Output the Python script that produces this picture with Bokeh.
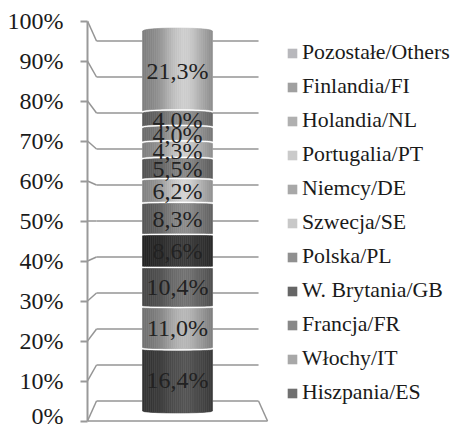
import numpy as np
from bokeh.plotting import figure
from bokeh.models import Range1d, Legend, LegendItem, FixedTicker
from bokeh.embed import file_html
from bokeh.resources import INLINE
from bokeh.core.properties import value

# ---------------- data ----------------
countries = ["Hiszpania/ES", "Włochy/IT", "Francja/FR", "W. Brytania/GB", "Polska/PL",
             "Szwecja/SE", "Niemcy/DE", "Portugalia/PT", "Holandia/NL", "Finlandia/FI",
             "Pozostałe/Others"]
shares = [16.4, 11.0, 10.4, 8.6, 8.3, 6.2, 5.5, 4.3, 4.0, 4.0, 21.3]
y_ticks = [0, 10, 20, 30, 40, 50, 60, 70, 80, 90, 100]
y_tick_labels = ["0%", "10%", "20%", "30%", "40%", "50%", "60%", "70%", "80%", "90%", "100%"]

# ---------------- styles ----------------
legend_colors = ["#707070", "#a8a8a8", "#888888", "#666666", "#909090", "#c8c8c8",
                 "#a8a8a8", "#cacaca", "#b0b0b0", "#a0a0a0", "#b8b8bc"]
body_grays = [0x48, 0x9c, 0x62, 0x34, 0x78, 0xb4, 0x74, 0xb0, 0x94, 0x7c, 0xb0]
FONT = "Liberation Serif"
GRID = "#959595"

KC = 0.95    # depth scale of the cylinder
KB = 0.90    # depth scale of the back wall
HW = 1.286   # half width of the floor (front) in bar-width units
R = 0.5      # cylinder radius in bar-width units

p = figure(width=453, height=428, output_backend="svg", toolbar_location=None,
           x_axis_location=None, min_border_left=87, min_border_right=0,
           min_border_top=0, min_border_bottom=0,
           x_range=Range1d(-HW, -HW + 366 / 70), y_range=Range1d(-1.875, 105.125))
p.outline_line_color = None
p.grid.visible = False
p.background_fill_color = "white"

yax = p.yaxis[0]
yax.ticker = FixedTicker(ticks=y_ticks)
yax.major_label_overrides = {t: l for t, l in zip(y_ticks, y_tick_labels)}
yax.bounds = (y_ticks[0], y_ticks[-1])
yax.axis_line_color = "#999999"
yax.axis_line_width = 2
yax.major_tick_line_color = "#999999"
yax.major_tick_line_width = 2
yax.major_tick_out = 7
yax.major_tick_in = 0
yax.minor_tick_line_color = None
yax.major_label_standoff = 17
yax.major_label_text_font = FONT
yax.major_label_text_font_size = "24px"
yax.major_label_text_color = "#1a1a1a"

# ---------------- walls / floor ----------------
def back(v):
    return 50 + (v - 50) * KB

side_xs = [[-HW, -HW * KB] for _ in y_ticks]
side_ys = [[v, back(v)] for v in y_ticks]
wall_xs = [[-HW * KB, HW * KB] for _ in y_ticks]
wall_ys = [[back(v), back(v)] for v in y_ticks]
floor_xs = [[-HW, HW], [HW, HW * KB]]
floor_ys = [[y_ticks[0], y_ticks[0]], [y_ticks[0], back(y_ticks[0])]]
p.multi_line(side_xs + wall_xs + floor_xs, side_ys + wall_ys + floor_ys,
             line_color=GRID, line_width=1.5)

# ---------------- cylinder ----------------
def cyl_y(v):
    return 50 + (v - 50) * KC

def bulge(v):
    return (-2.0 + 5.0 * v / 100.0) / 4.0

def edge_y(v, u):
    return cyl_y(v) + bulge(v) * np.sqrt(max(0.0, 1 - u * u))

def shade(u):
    t = (u + 1) / 2
    return 0.72 + 0.45 * np.exp(-((t - 0.6) / 0.32) ** 2)

cum = np.concatenate([[0.0], np.cumsum(shares)])
N = 36
us = np.linspace(-1, 1, N + 1)
gap = 0.28

# white backing so that the gaps look white
bx, by = [], []
for u in us:
    bx.append(u * R); by.append(edge_y(cum[-1], u))
for u in us[::-1]:
    bx.append(u * R); by.append(edge_y(cum[0], u))
p.patch(bx, by, fill_color="white", line_color=None)

xs, ys, cols = [], [], []
for i, (lo, hi) in enumerate(zip(cum[:-1], cum[1:])):
    g = body_grays[i]
    gb = gap if i > 0 else 0.0
    gt = gap if i < len(shares) - 1 else 0.0
    for j in range(N):
        u0, u1 = us[j], us[j + 1]
        xs.append([u0 * R, u1 * R, u1 * R, u0 * R])
        ys.append([edge_y(lo, u0) + gb, edge_y(lo, u1) + gb,
                   edge_y(hi, u1) - gt, edge_y(hi, u0) - gt])
        c = int(min(255, round(g * shade((u0 + u1) / 2))))
        cols.append("#%02x%02x%02x" % (c, c, c))
p.patches(xs, ys, fill_color=cols, line_color=cols, line_width=0.6)

# data labels
mids = [(lo + hi) / 2 for lo, hi in zip(cum[:-1], cum[1:])]
lab_y = [cyl_y(m) for m in mids]
labels = [("%.1f" % s).replace(".", ",") + "%" for s in shares]
p.text([0] * len(shares), lab_y, text=labels, text_font=value(FONT),
       text_font_size="24px", text_color="#222222", text_align="center",
       text_baseline="middle")

# ---------------- legend ----------------
items = []
for name, col in zip(countries, legend_colors):
    # zero-area quad: only its legend swatch is visible
    r = p.quad(left=[0], right=[0], top=[0], bottom=[0], fill_color=col, line_color=None)
    items.append(LegendItem(label=name, renderers=[r]))
items = items[::-1]

legend = Legend(items=items, location=(199, 23), border_line_color=None,
                background_fill_alpha=0, padding=0, margin=0, spacing=9,
                glyph_width=12, glyph_height=12, label_height=25, label_standoff=4,
                label_text_font=FONT, label_text_font_size="21.8px",
                label_text_color="#1a1a1a", label_text_baseline="middle")
p.add_layout(legend)

open("out.html", "w").write(file_html(p, INLINE))
